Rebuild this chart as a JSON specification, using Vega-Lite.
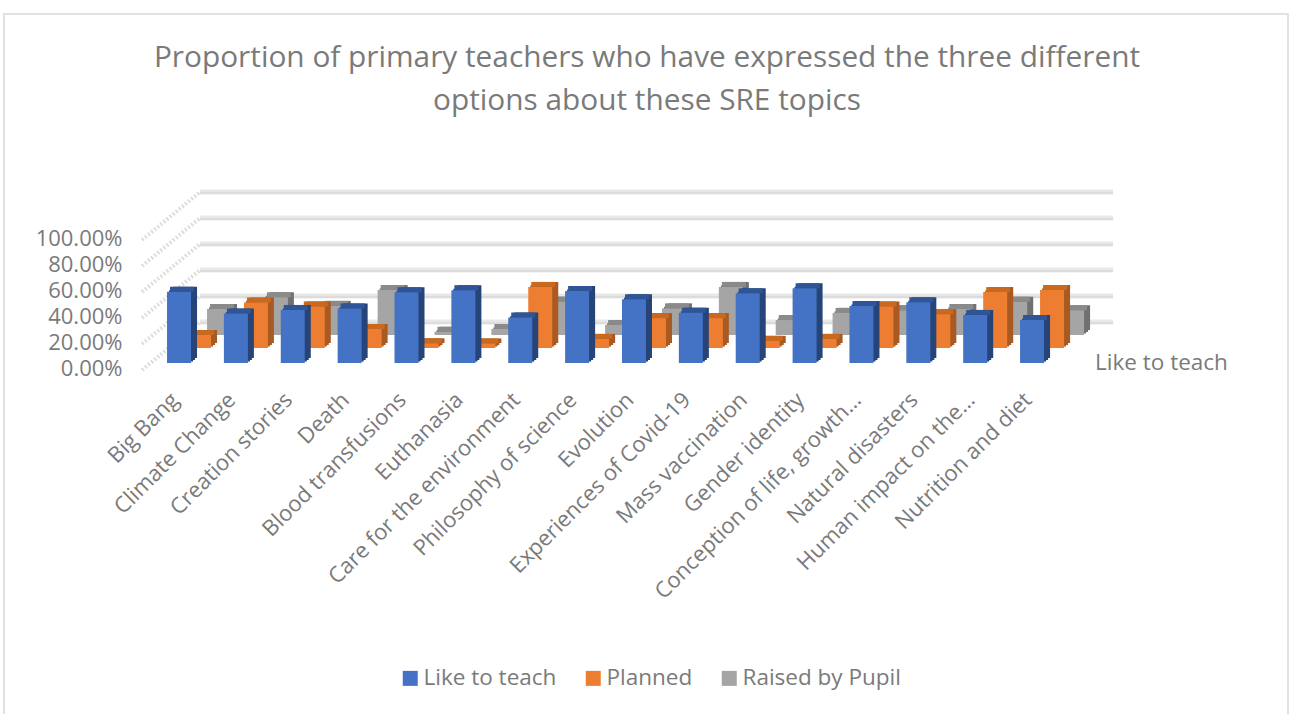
{"$schema":"https://vega.github.io/schema/vega-lite/v6.json","width":1284,"height":702,"autosize":"none","padding":{"left":4,"top":14,"right":1,"bottom":-2},"background":"white","view":{"stroke":"#e2e2e2","strokeWidth":2,"fill":"white"},"title":{"text":["Proportion of primary teachers who have expressed the three different","options about these SRE topics"],"anchor":"middle","offset":-102,"fontSize":29.8,"fontWeight":"normal","font":"Open Sans","color":"#7a7a7a","lineHeight":43,"dx":1},"config":{"font":"Open Sans"},"datasets":{"grid":[{"level":0},{"level":0.2},{"level":0.4},{"level":0.6},{"level":0.8},{"level":1}],"bars":[
{"topic":"Big Bang","series":"Like to teach","value":0.548},{"topic":"Big Bang","series":"Planned","value":0.10},{"topic":"Big Bang","series":"Raised by Pupil","value":0.20},
{"topic":"Climate Change","series":"Like to teach","value":0.38},{"topic":"Climate Change","series":"Planned","value":0.35},{"topic":"Climate Change","series":"Raised by Pupil","value":0.29},
{"topic":"Creation stories","series":"Like to teach","value":0.408},{"topic":"Creation stories","series":"Planned","value":0.32},{"topic":"Creation stories","series":"Raised by Pupil","value":0.224},
{"topic":"Death","series":"Like to teach","value":0.42},{"topic":"Death","series":"Planned","value":0.146},{"topic":"Death","series":"Raised by Pupil","value":0.346},
{"topic":"Blood transfusions","series":"Like to teach","value":0.544},{"topic":"Blood transfusions","series":"Planned","value":0.036},{"topic":"Blood transfusions","series":"Raised by Pupil","value":0.025},
{"topic":"Euthanasia","series":"Like to teach","value":0.56},{"topic":"Euthanasia","series":"Planned","value":0.035},{"topic":"Euthanasia","series":"Raised by Pupil","value":0.046},
{"topic":"Care for the environment","series":"Like to teach","value":0.35},{"topic":"Care for the environment","series":"Planned","value":0.47},{"topic":"Care for the environment","series":"Raised by Pupil","value":0.256},
{"topic":"Philosophy of science","series":"Like to teach","value":0.554},{"topic":"Philosophy of science","series":"Planned","value":0.07},{"topic":"Philosophy of science","series":"Raised by Pupil","value":0.077},
{"topic":"Evolution","series":"Like to teach","value":0.49},{"topic":"Evolution","series":"Planned","value":0.23},{"topic":"Evolution","series":"Raised by Pupil","value":0.205},
{"topic":"Experiences of Covid-19","series":"Like to teach","value":0.387},{"topic":"Experiences of Covid-19","series":"Planned","value":0.23},{"topic":"Experiences of Covid-19","series":"Raised by Pupil","value":0.37},
{"topic":"Mass vaccination","series":"Like to teach","value":0.536},{"topic":"Mass vaccination","series":"Planned","value":0.055},{"topic":"Mass vaccination","series":"Raised by Pupil","value":0.115},
{"topic":"Gender identity","series":"Like to teach","value":0.575},{"topic":"Gender identity","series":"Planned","value":0.07},{"topic":"Gender identity","series":"Raised by Pupil","value":0.17},
{"topic":"Conception of life, growth…","series":"Like to teach","value":0.438},{"topic":"Conception of life, growth…","series":"Planned","value":0.32},{"topic":"Conception of life, growth…","series":"Raised by Pupil","value":0.19},
{"topic":"Natural disasters","series":"Like to teach","value":0.467},{"topic":"Natural disasters","series":"Planned","value":0.26},{"topic":"Natural disasters","series":"Raised by Pupil","value":0.20},
{"topic":"Human impact on the…","series":"Like to teach","value":0.37},{"topic":"Human impact on the…","series":"Planned","value":0.43},{"topic":"Human impact on the…","series":"Raised by Pupil","value":0.256},
{"topic":"Nutrition and diet","series":"Like to teach","value":0.33},{"topic":"Nutrition and diet","series":"Planned","value":0.446},{"topic":"Nutrition and diet","series":"Raised by Pupil","value":0.19}
]},
"layer":[
{"data":{"name":"grid"},"mark":{"type":"rule","stroke":"#e8e8e8","strokeWidth":5,"xOffset":21,"x2Offset":81,"yOffset":-41,"y2Offset":-41},
"encoding":{"x":{"datum":"Big Bang","type":"nominal","scale":{"domain":["Big Bang","Climate Change","Creation stories","Death","Blood transfusions","Euthanasia","Care for the environment","Philosophy of science","Evolution","Experiences of Covid-19","Mass vaccination","Gender identity","Conception of life, growth…","Natural disasters","Human impact on the…","Nutrition and diet"],"type":"band","range":[146.6,1056.5],"paddingInner":0,"paddingOuter":0},"axis":{"title":null,"orient":"bottom","offset":-324,"domain":false,"ticks":false,"labelAngle":-45,"labelAlign":"right","labelBaseline":"middle","labelFontSize":22,"labelColor":"#7a7a7a","labelFont":"Open Sans","labelPadding":4,"labelOffset":-4,"labelLimit":400,"grid":false}},"x2":{"datum":"Nutrition and diet"},
"y":{"field":"level","type":"quantitative","scale":{"domain":[-2.7154,2.6846],"range":[702,0],"nice":false,"zero":false},"axis":{"title":null,"values":[0,0.2,0.4,0.6,0.8,1],"format":".2%","offset":-118,"domain":false,"ticks":false,"grid":false,"labelFontSize":22,"labelColor":"#7a7a7a","labelFont":"Open Sans","labelOffset":6,"labelPadding":0}},"y2":{"field":"level"}}},
{"data":{"name":"grid"},"mark":{"type":"rule","stroke":"#d8d8d8","strokeWidth":1.5,"xOffset":21,"x2Offset":81,"yOffset":-40,"y2Offset":-40},
"encoding":{"x":{"datum":"Big Bang","type":"nominal"},"x2":{"datum":"Nutrition and diet"},"y":{"field":"level","type":"quantitative"},"y2":{"field":"level"}}},
{"data":{"name":"grid"},"mark":{"type":"rule","stroke":"#dedede","strokeWidth":4,"strokeDash":[2,2],"xOffset":-37,"x2Offset":21,"yOffset":7,"y2Offset":-41},
"encoding":{"x":{"datum":"Big Bang","type":"nominal"},"x2":{"datum":"Big Bang"},"y":{"field":"level","type":"quantitative"},"y2":{"field":"level"}}},

{"data":{"name":"bars"},"transform":[{"filter":"datum.series==='Raised by Pupil'"}],"mark":{"type":"bar","size":24,"fill":"#707070","xOffset":42,"yOffset":-29.5,"y2Offset":-29.5},"encoding":{"x":{"field":"topic","type":"nominal"},"y":{"field":"value","type":"quantitative","stack":null},"y2":{"datum":0}}},
{"data":{"name":"bars"},"transform":[{"filter":"datum.series==='Raised by Pupil'"}],"mark":{"type":"bar","size":24,"fill":"#707070","xOffset":44,"yOffset":-31,"y2Offset":-31},"encoding":{"x":{"field":"topic","type":"nominal"},"y":{"field":"value","type":"quantitative","stack":null},"y2":{"datum":0}}},
{"data":{"name":"bars"},"transform":[{"filter":"datum.series==='Raised by Pupil'"}],"mark":{"type":"bar","size":24,"fill":"#707070","xOffset":46,"yOffset":-33,"y2Offset":-33},"encoding":{"x":{"field":"topic","type":"nominal"},"y":{"field":"value","type":"quantitative","stack":null},"y2":{"datum":0}}},
{"data":{"name":"bars"},"transform":[{"filter":"datum.series==='Raised by Pupil'"}],"mark":{"type":"bar","size":24,"fill":"#8a8a8a","xOffset":43,"yOffset":-33,"y2Offset":-28},"encoding":{"x":{"field":"topic","type":"nominal"},"y":{"field":"value","type":"quantitative","stack":null},"y2":{"field":"value"}}},
{"data":{"name":"bars"},"transform":[{"filter":"datum.series==='Raised by Pupil'"}],"mark":{"type":"bar","size":24,"xOffset":40,"yOffset":-28,"y2Offset":-28},"encoding":{"x":{"field":"topic","type":"nominal"},"y":{"field":"value","type":"quantitative","stack":null},"y2":{"datum":0},"color":{"field":"series","type":"nominal","scale":{"domain":["Like to teach","Planned","Raised by Pupil"],"range":["#4472C4","#ED7D31","#A5A5A5"]},"legend":{"title":null,"orient":"none","legendX":395,"legendY":653,"direction":"horizontal","columns":3,"symbolType":"square","symbolSize":225,"symbolStrokeWidth":0,"labelFontSize":22.5,"labelColor":"#7a7a7a","labelFont":"Open Sans","columnPadding":25,"labelOffset":2,"padding":0}}}},

{"data":{"name":"bars"},"transform":[{"filter":"datum.series==='Planned'"}],"mark":{"type":"bar","size":24,"fill":"#a85a22","xOffset":22,"yOffset":-16.5,"y2Offset":-16.5},"encoding":{"x":{"field":"topic","type":"nominal"},"y":{"field":"value","type":"quantitative","stack":null},"y2":{"datum":0}}},
{"data":{"name":"bars"},"transform":[{"filter":"datum.series==='Planned'"}],"mark":{"type":"bar","size":24,"fill":"#a85a22","xOffset":24,"yOffset":-18,"y2Offset":-18},"encoding":{"x":{"field":"topic","type":"nominal"},"y":{"field":"value","type":"quantitative","stack":null},"y2":{"datum":0}}},
{"data":{"name":"bars"},"transform":[{"filter":"datum.series==='Planned'"}],"mark":{"type":"bar","size":24,"fill":"#a85a22","xOffset":26,"yOffset":-20,"y2Offset":-20},"encoding":{"x":{"field":"topic","type":"nominal"},"y":{"field":"value","type":"quantitative","stack":null},"y2":{"datum":0}}},
{"data":{"name":"bars"},"transform":[{"filter":"datum.series==='Planned'"}],"mark":{"type":"bar","size":24,"fill":"#c9691f","xOffset":23,"yOffset":-20,"y2Offset":-15},"encoding":{"x":{"field":"topic","type":"nominal"},"y":{"field":"value","type":"quantitative","stack":null},"y2":{"field":"value"}}},
{"data":{"name":"bars"},"transform":[{"filter":"datum.series==='Planned'"}],"mark":{"type":"bar","size":24,"xOffset":20,"yOffset":-15,"y2Offset":-15},"encoding":{"x":{"field":"topic","type":"nominal"},"y":{"field":"value","type":"quantitative","stack":null},"y2":{"datum":0},"color":{"field":"series","type":"nominal"}}},

{"data":{"name":"bars"},"transform":[{"filter":"datum.series==='Like to teach'"}],"mark":{"type":"bar","size":24,"fill":"#264478","xOffset":2,"yOffset":-1.5,"y2Offset":-1.5},"encoding":{"x":{"field":"topic","type":"nominal"},"y":{"field":"value","type":"quantitative","stack":null},"y2":{"datum":0}}},
{"data":{"name":"bars"},"transform":[{"filter":"datum.series==='Like to teach'"}],"mark":{"type":"bar","size":24,"fill":"#264478","xOffset":4,"yOffset":-3,"y2Offset":-3},"encoding":{"x":{"field":"topic","type":"nominal"},"y":{"field":"value","type":"quantitative","stack":null},"y2":{"datum":0}}},
{"data":{"name":"bars"},"transform":[{"filter":"datum.series==='Like to teach'"}],"mark":{"type":"bar","size":24,"fill":"#264478","xOffset":6,"yOffset":-5,"y2Offset":-5},"encoding":{"x":{"field":"topic","type":"nominal"},"y":{"field":"value","type":"quantitative","stack":null},"y2":{"datum":0}}},
{"data":{"name":"bars"},"transform":[{"filter":"datum.series==='Like to teach'"}],"mark":{"type":"bar","size":24,"fill":"#2f5597","xOffset":3,"yOffset":-5,"y2Offset":0},"encoding":{"x":{"field":"topic","type":"nominal"},"y":{"field":"value","type":"quantitative","stack":null},"y2":{"field":"value"}}},
{"data":{"name":"bars"},"transform":[{"filter":"datum.series==='Like to teach'"}],"mark":{"type":"bar","size":24},"encoding":{"x":{"field":"topic","type":"nominal"},"y":{"field":"value","type":"quantitative","stack":null},"color":{"field":"series","type":"nominal"}}},

{"data":{"values":[{"label":"Like to teach","topic":"Nutrition and diet","level":0}]},"mark":{"type":"text","align":"left","baseline":"middle","fontSize":22.5,"font":"Open Sans","color":"#7a7a7a","xOffset":63,"yOffset":0},"encoding":{"x":{"field":"topic","type":"nominal"},"y":{"field":"level","type":"quantitative"},"text":{"field":"label"}}}
]}
